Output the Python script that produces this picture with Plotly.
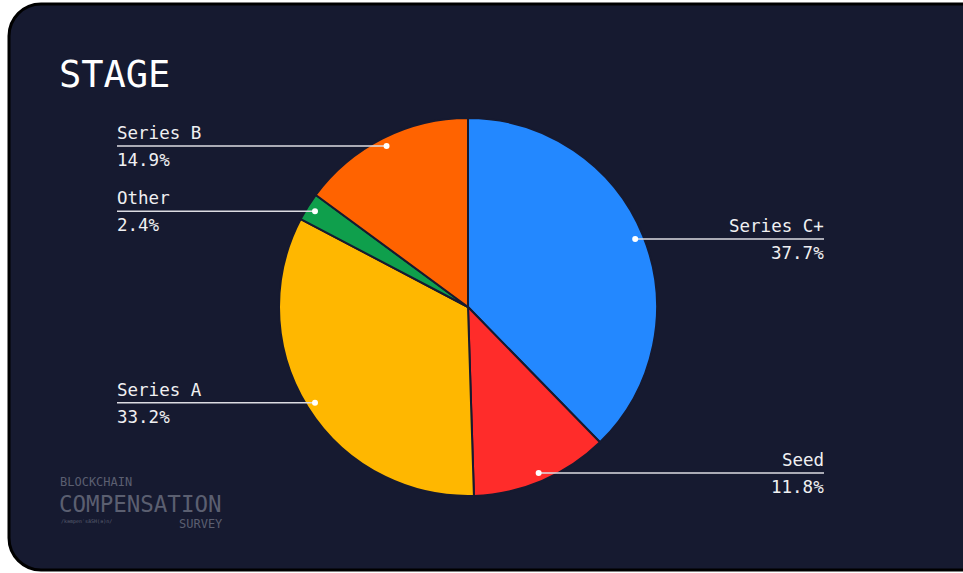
import math
import plotly.graph_objects as go

# ---- data ----
labels = ["Series C+", "Seed", "Series A", "Other", "Series B"]
values = [37.7, 11.8, 33.2, 2.4, 14.9]
colors = ["#2388ff", "#ff2c2a", "#ffb700", "#0f9f4c", "#ff6300"]
title_text = "STAGE"

# ---- layout constants (pixels) ----
W, H = 963, 573
CX, CY, R = 468, 307, 189
DOT_R = 0.955 * R
LEFT_X, RIGHT_X = 117, 824
BG = "#161a30"
FONT = "DejaVu Sans Mono"


def px(x):
    return x / W


def py(y):
    return 1 - y / H


def rounded_rect(l, t, r, b, rad):
    k = 0.5523 * rad
    pts = [
        f"M{px(l + rad)},{py(t)}",
        f"L{px(r - rad)},{py(t)}",
        f"C{px(r - rad + k)},{py(t)} {px(r)},{py(t + rad - k)} {px(r)},{py(t + rad)}",
        f"L{px(r)},{py(b - rad)}",
        f"C{px(r)},{py(b - rad + k)} {px(r - rad + k)},{py(b)} {px(r - rad)},{py(b)}",
        f"L{px(l + rad)},{py(b)}",
        f"C{px(l + rad - k)},{py(b)} {px(l)},{py(b - rad + k)} {px(l)},{py(b - rad)}",
        f"L{px(l)},{py(t + rad)}",
        f"C{px(l)},{py(t + rad - k)} {px(l + rad - k)},{py(t)} {px(l + rad)},{py(t)}",
        "Z",
    ]
    return " ".join(pts)


fig = go.Figure()
fig.add_trace(go.Pie(
    labels=labels,
    values=values,
    sort=False,
    direction="clockwise",
    rotation=0,
    marker=dict(colors=colors, line=dict(color=BG, width=2)),
    textinfo="none",
    hoverinfo="label+percent",
    showlegend=False,
    domain=dict(x=[px(CX - R), px(CX + R)], y=[py(CY + R), py(CY - R)]),
))

shapes = [dict(type="path", xref="paper", yref="paper",
               path=rounded_rect(9, 4, 1010, 570, 32),
               fillcolor=BG, line=dict(color="#000000", width=3), layer="below")]
annotations = []

total = sum(values)
cum = 0.0
for lab, v in zip(labels, values):
    mid = (cum + v / 2) / total * 2 * math.pi
    cum += v
    dx = CX + DOT_R * math.sin(mid)
    dy = CY - DOT_R * math.cos(mid)
    pct = f"{v / total * 100:.1f}%"
    right = math.sin(mid) > 0
    tx = RIGHT_X if right else LEFT_X
    ax = tx + 2 if right else tx - 2
    anchor = "right" if right else "left"
    shapes.append(dict(type="line", xref="paper", yref="paper",
                       x0=px(dx), y0=py(dy), x1=px(tx), y1=py(dy),
                       line=dict(color="#dcdce2", width=1.5)))
    shapes.append(dict(type="circle", xref="paper", yref="paper",
                       x0=px(dx - 3), y0=py(dy - 3), x1=px(dx + 3), y1=py(dy + 3),
                       fillcolor="#ffffff", line=dict(width=0)))
    annotations.append(dict(xref="paper", yref="paper", x=px(ax), y=py(dy - 1),
                            text=lab, showarrow=False, xanchor=anchor, yanchor="bottom",
                            font=dict(family=FONT, size=17.5, color="#f0f0f2")))
    annotations.append(dict(xref="paper", yref="paper", x=px(ax), y=py(dy + 2),
                            text=pct, showarrow=False, xanchor=anchor, yanchor="top",
                            font=dict(family=FONT, size=17.5, color="#f0f0f2")))

# title
annotations.append(dict(xref="paper", yref="paper", x=px(57), y=py(51), text=title_text,
                        showarrow=False, xanchor="left", yanchor="top",
                        font=dict(family=FONT, size=37, color="#ffffff")))
# logo
logo_col = "#5b5f70"
annotations += [
    dict(xref="paper", yref="paper", x=px(59), y=py(490), text="BLOCKCHAIN", showarrow=False,
         xanchor="left", yanchor="bottom", borderpad=0,
         font=dict(family=FONT, size=12, color=logo_col)),
    dict(xref="paper", yref="paper", x=px(58), y=py(490), text="COMPENSATION", showarrow=False,
         xanchor="left", yanchor="top", borderpad=0,
         font=dict(family=FONT, size=22.5, color=logo_col)),
    dict(xref="paper", yref="paper", x=px(60), y=py(517), text="/kəmpenˈsāSH(ə)n/", showarrow=False,
         xanchor="left", yanchor="top", borderpad=0,
         font=dict(family=FONT, size=5, color=logo_col)),
    dict(xref="paper", yref="paper", x=px(224), y=py(516), text="SURVEY", showarrow=False,
         xanchor="right", yanchor="top", borderpad=0,
         font=dict(family=FONT, size=12, color=logo_col)),
]

fig.update_layout(
    width=W, height=H,
    margin=dict(l=0, r=0, t=0, b=0),
    paper_bgcolor="#ffffff",
    plot_bgcolor="#ffffff",
    shapes=shapes,
    annotations=annotations,
)

fig.write_html("out.html")
